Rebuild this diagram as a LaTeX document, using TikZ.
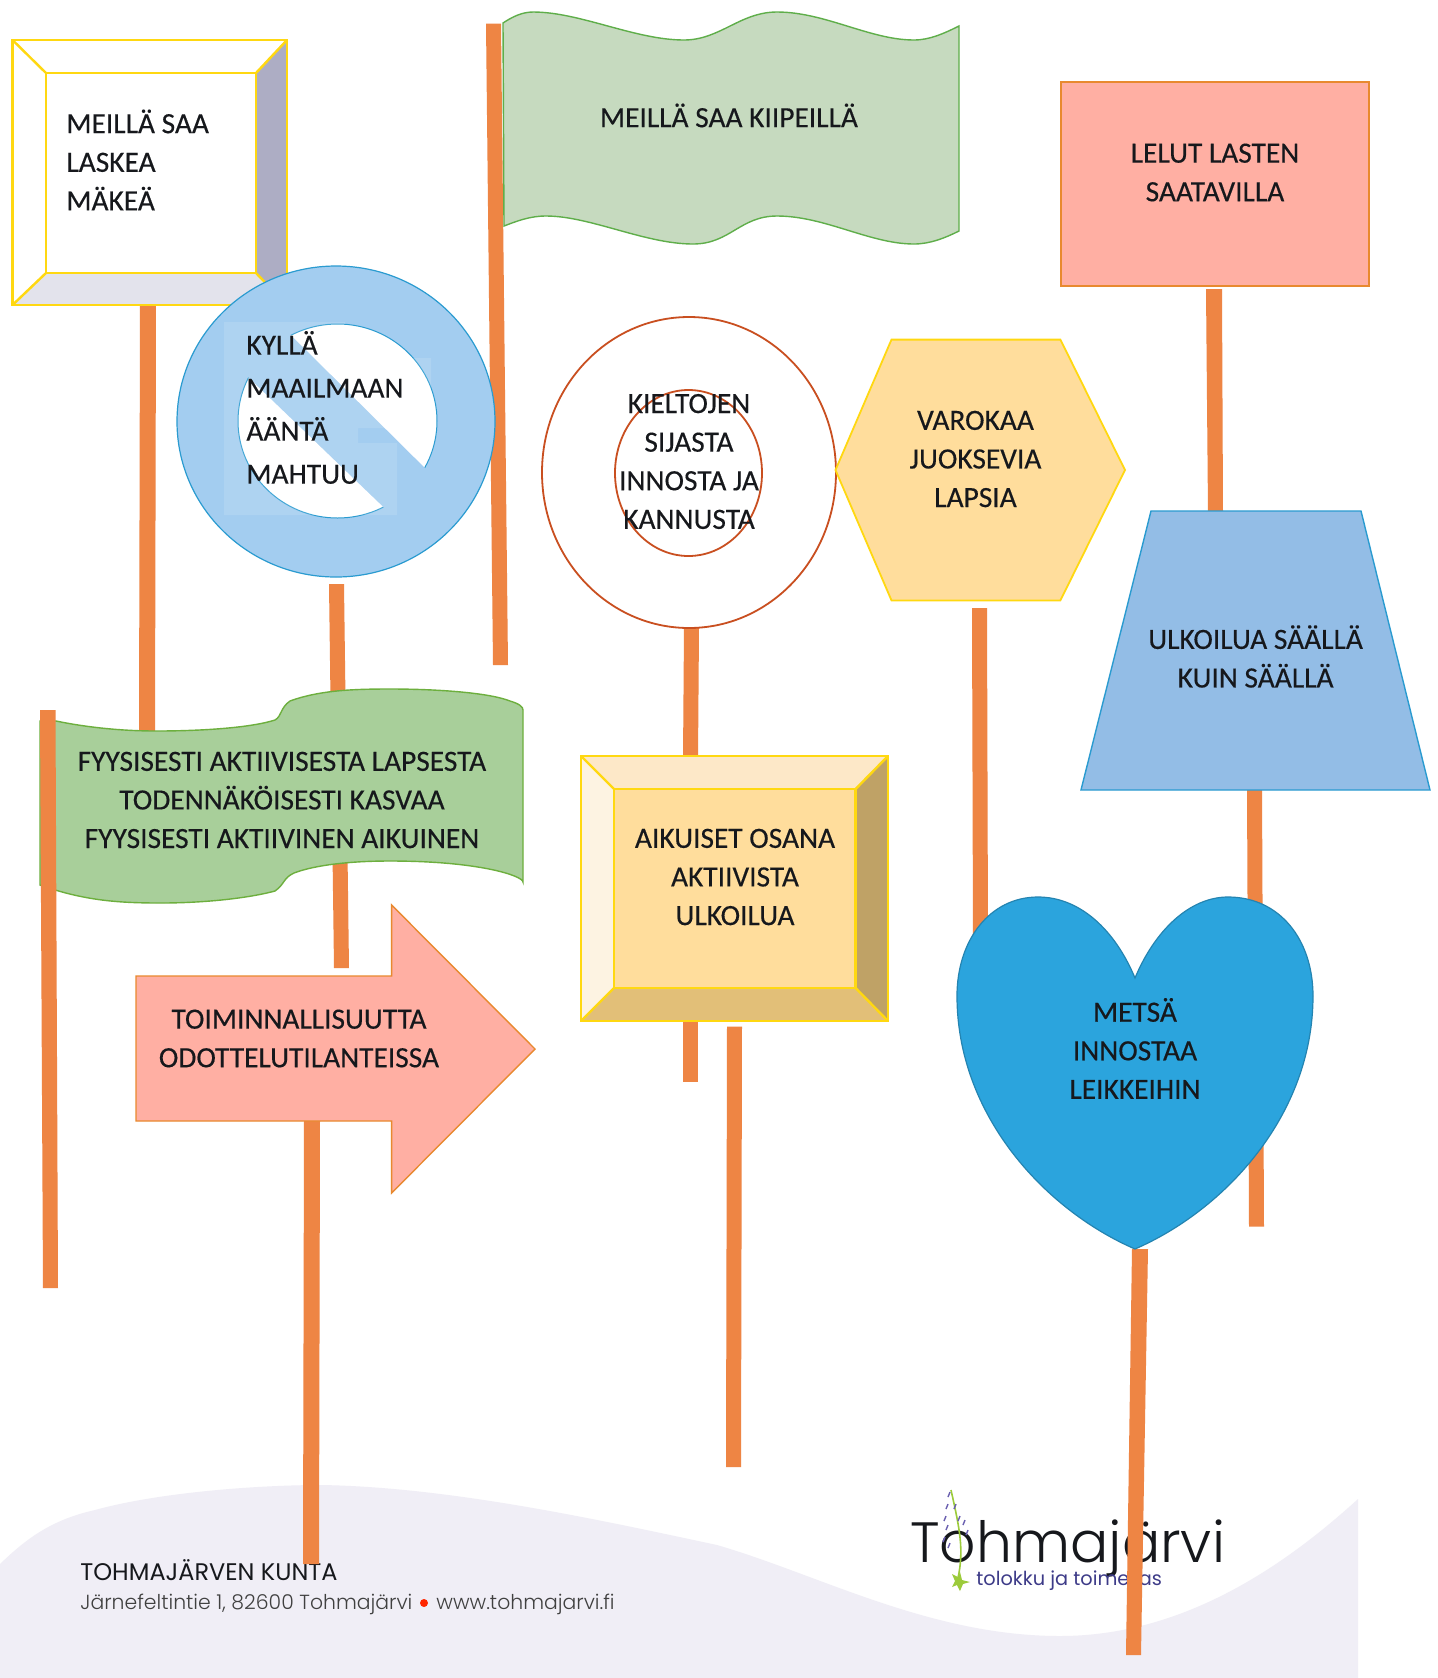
\documentclass[tikz,border=0pt]{standalone}
\usepackage{fontspec}
\setmainfont{Carlito}[RawFeature={embolden=0.35}]
\newfontfamily\geo{Poppins}
\newfontfamily\geol{Poppins Light}
\definecolor{polec}{HTML}{EE8544}
\definecolor{yel}{HTML}{FFD811}
\definecolor{pinkf}{HTML}{FFAFA3}
\definecolor{pinkd}{HTML}{E8892F}
\definecolor{skyf}{HTML}{A3CDF0}
\definecolor{skyd}{HTML}{2A9BD0}
\definecolor{trapf}{HTML}{93BDE6}
\definecolor{orf}{HTML}{FFDD9C}
\definecolor{txt}{HTML}{16181C}
\definecolor{foot}{HTML}{F0EEF6}
\definecolor{flagA}{HTML}{C6DABF}
\definecolor{flagB}{HTML}{A8CF9A}
\definecolor{flagAd}{HTML}{5FAE4A}
\definecolor{flagBd}{HTML}{6DAF3E}
\definecolor{bevR}{HTML}{BFA266}
\definecolor{bevB}{HTML}{E2BF78}
\definecolor{bevT}{HTML}{FDE8C8}
\definecolor{bevL}{HTML}{FDF3E2}
\definecolor{heartc}{HTML}{2BA4DD}
\definecolor{targ}{HTML}{C94F20}
\definecolor{grayR}{HTML}{ADADC4}
\definecolor{grayB}{HTML}{E3E3EC}
\definecolor{stem}{HTML}{9CCB3B}
\definecolor{petal}{HTML}{6A5FB0}
\definecolor{tagl}{HTML}{3D3B88}
\tikzset{
 x=0.5pt,y=-0.5pt,
 pole/.style={fill=polec,draw=none},
 lab/.style={font=\fontsize{14.7}{19.3}\selectfont,text=txt,align=center,inner sep=0pt},
 labl/.style={lab,align=left},
 bevel/.style={draw=yel,line width=1.2pt,line join=miter},
}
\begin{document}
\begin{tikzpicture}
\useasboundingbox (0,0) rectangle (1437,1678);
\fill[white] (0,0) rectangle (1437,1678);
% footer wave
\fill[foot] (0,1564) .. controls (25,1540) and (50,1520) .. (95,1510)
 .. controls (160,1492) and (260,1485) .. (321,1485)
 .. controls (450,1487) and (600,1520) .. (717,1545)
 .. controls (820,1575) and (930,1636) .. (1060,1636)
 .. controls (1180,1636) and (1280,1570) .. (1358,1499)
 -- (1358,1678) -- (0,1678) -- cycle;
% footer text
\node[inner sep=0pt,anchor=west,text=txt,font=\geo\fontsize{12}{15}\selectfont] (ftitle) at (80,1570) {TOHMAJÄRVEN KUNTA};
\node[inner sep=0pt,anchor=west,text=black!75,font=\geol\fontsize{10.2}{13}\selectfont] (faddr) at (80,1604) {Järnefeltintie 1, 82600 Tohmajärvi};
\fill[red!70!orange] (424,1603) circle (4);
\node[inner sep=0pt,anchor=west,text=black!75,font=\geol\fontsize{10.2}{13}\selectfont] (fweb) at (436,1604) {www.tohmajarvi.fi};
% logo
\node[inner sep=0pt,anchor=base west,text=txt,font=\geol\fontsize{28.4}{32}\selectfont] (logo) at (910,1562) {Tohmajärvi};
\node[inner sep=0pt,anchor=west,text=tagl,font=\geo\fontsize{9.66}{12}\selectfont] (logos) at (976,1581) {tolokku ja toimelias};
\draw[stem,line width=0.8pt] (951,1490) .. controls (960,1530) and (964,1550) .. (958,1578);
\fill[stem] (962,1580) -- (970,1582) -- (963,1584) -- (960,1591) -- (957,1585) -- (952,1587) -- (955,1581) -- (952,1574) -- (958,1577) -- (960,1572) -- cycle;
\foreach \a/\b in {950/1492,948/1504,956/1504,946/1516,960/1516,948/1525,965/1520,968/1530,945/1537,950/1543}
  \draw[petal,line width=0.7pt] (\a,\b) -- ++(-2,5);
% poles
\fill[pole] (140,305) -- (156,305) -- (155,735) -- (139,735) -- cycle;
\fill[pole] (329,584) -- (344,584) -- (349,968) -- (334,968) -- cycle;
\fill[pole] (486,23.5) -- (501,23.5) -- (508,665) -- (493,665) -- cycle;
\fill[pole] (684,628) -- (699,628) -- (698,760) -- (683,760) -- cycle;
\fill[pole] (683,1022) -- (698,1022) -- (698,1082) -- (683,1082) -- cycle;
\fill[pole] (972,608) -- (987,608) -- (988,940) -- (973,940) -- cycle;
\fill[pole] (1206,289) -- (1222,289) -- (1223,512) -- (1208,512) -- cycle;
\fill[pole] (1247,786) -- (1262,786) -- (1264,1226.5) -- (1249,1226.5) -- cycle;
\fill[pole] (727,1026.5) -- (742,1026.5) -- (741,1467) -- (726,1467) -- cycle;
\fill[pole] (304,1121) -- (320,1121) -- (319,1564) -- (303,1564) -- cycle;
% box 1
\fill[white] (12.5,40) rectangle (287,305);
\fill[grayB] (12.5,305) -- (46,273) -- (256,273) -- (287,305) -- cycle;
\fill[grayR] (287,40) -- (256,73) -- (256,273) -- (287,305) -- cycle;
\draw[bevel] (12.5,40) rectangle (287,305);
\draw[bevel] (46,73) rectangle (256,273);
\draw[bevel] (12.5,40) -- (46,73) (287,40) -- (256,73) (12.5,305) -- (46,273) (287,305) -- (256,273);
\node[labl,anchor=west] (t1) at (66,160) {MEILLÄ SAA\\LASKEA\\MÄKEÄ};
% flag 1
\path[fill=flagA,draw=flagAd,line width=0.7pt]
 (503,23) .. controls (512,17) and (522,12) .. (533,12)
 .. controls (580,12) and (635,40) .. (684,40)
 .. controls (720,40) and (740,12) .. (777,12)
 .. controls (825,12) and (870,40) .. (914,40)
 .. controls (930,40) and (945,33) .. (959,26)
 -- (959,231)
 .. controls (945,238) and (930,244) .. (914,244)
 .. controls (870,244) and (825,216) .. (777,216)
 .. controls (740,216) and (730,244) .. (693,244)
 .. controls (645,244) and (590,216) .. (546,216)
 .. controls (530,216) and (517,221) .. (504,226) -- cycle;
\node[lab] (t2) at (729,115.5) {MEILLÄ SAA KIIPEILLÄ};
% rectangle
\draw[fill=pinkf,draw=pinkd,line width=0.7pt] (1061,82) rectangle (1369,286);
\node[lab] (t3) at (1215,172.5) {LELUT LASTEN\\SAATAVILLA};
% no-symbol
\draw[fill=skyf,draw=skyd,line width=0.6pt] (336,421.5) ellipse (159 and 155.5);
\begin{scope}
 \clip (190,235) -- (525,567) -- (525,235) -- cycle;
 \draw[fill=white,draw=skyd,line width=0.5pt] (337.5,421) ellipse (99.5 and 97);
\end{scope}
\begin{scope}
 \clip (150,283) -- (480,600) -- (150,600) -- cycle;
 \draw[fill=white,draw=skyd,line width=0.5pt] (337.5,421) ellipse (99.5 and 97);
\end{scope}
\fill[white,opacity=.12] (224,322) -- (345,322) -- (345,358) -- (431,358) -- (431,428) -- (358,428) -- (358,443) -- (397,443) -- (397,515) -- (224,515) -- cycle;
\node[labl,anchor=west,font=\fontsize{14.7}{21.5}\selectfont] (t4) at (246,407.5) {KYLLÄ\\MAAILMAAN\\ÄÄNTÄ\\MAHTUU};
% target
\draw[fill=white,draw=targ,line width=0.9pt] (689,472.5) ellipse (147 and 155.5);
\draw[fill=white,draw=targ,line width=0.9pt] (688.5,473) ellipse (73.5 and 83);
\node[lab] (t5) at (689,461.5) {KIELTOJEN\\SIJASTA\\INNOSTA JA\\KANNUSTA};
% hexagon
\draw[fill=orf,draw=yel,line width=0.9pt] (835.5,470) -- (891.5,339.6) -- (1060.4,339.6) -- (1125,470) -- (1060.4,600.4) -- (891.5,600.4) -- cycle;
\node[lab] (t6) at (975.5,459) {VAROKAA\\JUOKSEVIA\\LAPSIA};
% trapezoid
\draw[fill=trapf,draw=skyd,line width=0.7pt] (1151,511) -- (1361,511) -- (1430,790) -- (1081,790) -- cycle;
\node[lab] (t7) at (1255.6,656.5) {ULKOILUA SÄÄLLÄ\\KUIN SÄÄLLÄ};
% flag 2
\path[fill=flagB,draw=flagBd,line width=0.7pt]
 (56,721) .. controls (85,727) and (120,731) .. (156,731)
 .. controls (200,731) and (250,728) .. (275,720)
 .. controls (282,716) and (280,708) .. (290,701)
 .. controls (320,690) and (355,689) .. (390,689)
 .. controls (440,689) and (490,693) .. (510,701)
 .. controls (520,704) and (523,707) .. (523,710)
 -- (523,882)
 .. controls (523,876) and (480,861) .. (390,861)
 .. controls (350,861) and (315,865) .. (294,873)
 .. controls (283,878) and (285,884) .. (275,891)
 .. controls (245,899) and (200,903) .. (161,903)
 .. controls (120,903) and (85,901) .. (40,885) -- (40,721) -- cycle;
\fill[pole] (40,710) -- (55.5,710) -- (58,1288) -- (43,1288) -- cycle;
\node[lab] (t8) at (282,800) {FYYSISESTI AKTIIVISESTA LAPSESTA\\TODENNÄKÖISESTI KASVAA\\FYYSISESTI AKTIIVINEN AIKUINEN};
% box 2
\fill[orf] (581,756) rectangle (888,1021);
\fill[bevT] (581,756) -- (888,756) -- (855.6,789) -- (614,789) -- cycle;
\fill[bevL] (581,756) -- (614,789) -- (614,988) -- (581,1021) -- cycle;
\fill[bevR] (888,756) -- (855.6,789) -- (855.6,988) -- (888,1021) -- cycle;
\fill[bevB] (581,1021) -- (614,988) -- (855.6,988) -- (888,1021) -- cycle;
\draw[bevel] (581,756) rectangle (888,1021);
\draw[bevel] (614,789) rectangle (855.6,988);
\draw[bevel] (581,756) -- (614,789) (888,756) -- (855.6,789) (581,1021) -- (614,988) (888,1021) -- (855.6,988);
\node[lab] (t9) at (735,877) {AIKUISET OSANA\\AKTIIVISTA\\ULKOILUA};
% arrow
\draw[fill=pinkf,draw=pinkd,line width=0.7pt] (136,976) -- (391.6,976) -- (391.6,905) -- (535,1049) -- (391.6,1193) -- (391.6,1121) -- (136,1121) -- cycle;
\node[lab] (t10) at (299,1038.5) {TOIMINNALLISUUTTA\\ODOTTELUTILANTEISSA};
% heart
\fill[pole] (1132,1249) -- (1148,1249) -- (1141,1655) -- (1126,1655) -- cycle;
\draw[fill=heartc,draw=skyd!85!black,line width=0.6pt] (1135,978)
 .. controls (1155,930) and (1190,897) .. (1228,897)
 .. controls (1280,897) and (1313,940) .. (1313,996)
 .. controls (1313,1115) and (1225,1210) .. (1135,1249)
 .. controls (1045,1210) and (957,1115) .. (957,996)
 .. controls (957,940) and (990,897) .. (1038,897)
 .. controls (1080,897) and (1115,930) .. (1135,978) -- cycle;
\node[lab] (t11) at (1135,1048.5) {METSÄ\\INNOSTAA\\LEIKKEIHIN};
\end{tikzpicture}
\end{document}
